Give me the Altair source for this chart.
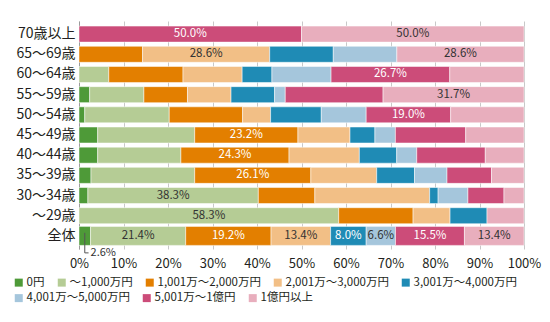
import altair as alt
import pandas as pd

ages = ["70歳以上", "65〜69歳", "60〜64歳", "55〜59歳", "50〜54歳", "45〜49歳",
        "40〜44歳", "35〜39歳", "30〜34歳", "〜29歳", "全体"]
categories = ["0円", "〜1,000万円", "1,001万〜2,000万円", "2,001万〜3,000万円",
              "3,001万〜4,000万円", "4,001万〜5,000万円", "5,001万〜1億円", "1億円以上"]
colors = ["#4e9a38", "#b5cc95", "#e37f00", "#f2bf86", "#1f8bb5", "#a5c6dc", "#cc4c79", "#e8aebd"]

v_0 = [0, 0, 0, 2.4, 1.3, 4.2, 4.2, 2.7, 2.0, 0, 2.6]
v_1000 = [0, 0, 6.7, 12.2, 19.0, 21.8, 18.7, 23.3, 38.3, 58.3, 21.4]
v_2000 = [0, 14.3, 16.7, 9.8, 16.5, 23.2, 24.3, 26.1, 12.7, 16.7, 19.2]
v_3000 = [0, 28.6, 13.3, 9.8, 6.3, 11.7, 15.8, 14.8, 25.8, 8.3, 13.4]
v_4000 = [0, 14.3, 6.7, 9.8, 11.4, 5.6, 8.4, 8.5, 1.9, 8.3, 8.0]
v_5000 = [0, 14.3, 13.3, 2.4, 10.1, 4.6, 4.5, 7.3, 6.7, 0, 6.6]
v_1oku = [50.0, 0, 26.7, 22.0, 19.0, 15.8, 15.4, 10.0, 8.1, 0, 15.5]
v_over = [50.0, 28.6, 16.7, 31.7, 16.5, 13.1, 8.7, 7.3, 4.5, 8.3, 13.4]
series = [v_0, v_1000, v_2000, v_3000, v_4000, v_5000, v_1oku, v_over]

labeled = [
    ("70歳以上", "5,001万〜1億円"), ("70歳以上", "1億円以上"),
    ("65〜69歳", "2,001万〜3,000万円"), ("65〜69歳", "1億円以上"),
    ("60〜64歳", "5,001万〜1億円"),
    ("55〜59歳", "1億円以上"),
    ("50〜54歳", "5,001万〜1億円"),
    ("45〜49歳", "1,001万〜2,000万円"),
    ("40〜44歳", "1,001万〜2,000万円"),
    ("35〜39歳", "1,001万〜2,000万円"),
    ("30〜34歳", "〜1,000万円"),
    ("〜29歳", "〜1,000万円"),
    ("全体", "〜1,000万円"), ("全体", "1,001万〜2,000万円"), ("全体", "2,001万〜3,000万円"),
    ("全体", "3,001万〜4,000万円"), ("全体", "4,001万〜5,000万円"),
    ("全体", "5,001万〜1億円"), ("全体", "1億円以上"),
]
callout = ("全体", "0円")
white_text_cats = ["1,001万〜2,000万円", "3,001万〜4,000万円", "5,001万〜1億円"]
legend_row1 = categories[:5]
legend_row2 = categories[5:]

rows = []
for ci, (cat, vals) in enumerate(zip(categories, series)):
    for age, v in zip(ages, vals):
        rows.append({"age": age, "cat": cat, "ci": ci, "value": v, "key": age + "|" + cat})
df = pd.DataFrame(rows)
label_keys = [a + "|" + c for a, c in labeled]
callout_key = callout[0] + "|" + callout[1]

FONT = "Noto Sans CJK JP"

base = (
    alt.Chart(df)
    .transform_filter("datum.value > 0")
    .transform_stack(stack="value", groupby=["age"], as_=["x0", "x1"],
                     sort=[alt.SortField("ci", order="ascending")], offset="normalize")
    .transform_calculate(mid="(datum.x0 + datum.x1) / 2",
                         label="format(datum.value, '.1f') + '%'")
)

y_enc = alt.Y("age:N", sort=ages,
              scale=alt.Scale(paddingInner=0.2, paddingOuter=0.25),
              axis=alt.Axis(title=None, ticks=False, domain=True, domainColor="#9a9a9a",
                            labelFontSize=14, labelPadding=4, labelColor="#231f20",
                            labelFont=FONT))

x_enc = alt.X("x0:Q", scale=alt.Scale(domain=[0, 1], nice=False),
              axis=alt.Axis(title=None, format="%", values=[i / 10 for i in range(11)],
                            grid=True, gridColor="#c8c8c8", domain=False, ticks=False,
                            labelFontSize=13, labelPadding=8, labelColor="#231f20",
                            labelOverlap=False, labelFlush=False, labelFont=FONT))


def legend(y):
    return alt.Legend(title=None, orient="none", legendX=-66, legendY=y,
                      direction="horizontal", symbolType="square", symbolSize=64,
                      symbolStrokeWidth=0, labelFontSize=11.5, labelOffset=2,
                      columnPadding=11, padding=0, labelColor="#231f20", labelFont=FONT)


size_enc = alt.condition("datum.age == '全体'", alt.value(19), alt.value(16))

bars1 = base.transform_filter(alt.FieldOneOfPredicate(field="cat", oneOf=legend_row1)).mark_bar(
    stroke="white", strokeWidth=0.5).encode(
    x=x_enc, x2="x1:Q", y=y_enc,
    color=alt.Color("cat:N", scale=alt.Scale(domain=legend_row1, range=colors[:5]),
                    legend=legend(255.5)),
    size=size_enc,
)
bars2 = base.transform_filter(alt.FieldOneOfPredicate(field="cat", oneOf=legend_row2)).mark_bar(
    stroke="white", strokeWidth=0.5).encode(
    x=x_enc, x2="x1:Q", y=y_enc,
    color=alt.Color("cat:N", scale=alt.Scale(domain=legend_row2, range=colors[5:]),
                    legend=legend(271)),
    size=size_enc,
)

texts = base.transform_filter(alt.FieldOneOfPredicate(field="key", oneOf=label_keys)).mark_text(
    fontSize=11.5, baseline="middle", font=FONT
).encode(
    x="mid:Q",
    y=y_enc,
    text="label:N",
    color=alt.condition(alt.FieldOneOfPredicate(field="cat", oneOf=white_text_cats),
                        alt.value("white"), alt.value("#333333")),
)

cbase = base.transform_filter(alt.FieldEqualPredicate(field="key", equal=callout_key))
vrule = cbase.mark_rule(color="#555555", strokeWidth=1, yOffset=-3, y2Offset=17).encode(
    x="mid:Q", y=y_enc, y2="age:N")
hrule = cbase.mark_rule(color="#555555", strokeWidth=1, yOffset=17, x2Offset=-2).encode(
    x="mid:Q", x2="x1:Q", y=y_enc)
ctext = cbase.mark_text(align="left", baseline="middle", dx=0, dy=17, fontSize=11,
                        font=FONT, color="#333333").encode(
    x="x1:Q", y=y_enc, text="label:N")

chart = (
    alt.layer(bars1, bars2, texts, vrule, hrule, ctext)
    .resolve_scale(color="independent")
    .properties(width=445, height=228, autosize=alt.AutoSizeParams(type="none"),
                padding={"left": 79, "top": 21, "right": 26, "bottom": 73})
    .configure(font=FONT)
    .configure_view(stroke=None)
)

chart.save("out.html", embed_options={"renderer": "svg", "actions": False})
